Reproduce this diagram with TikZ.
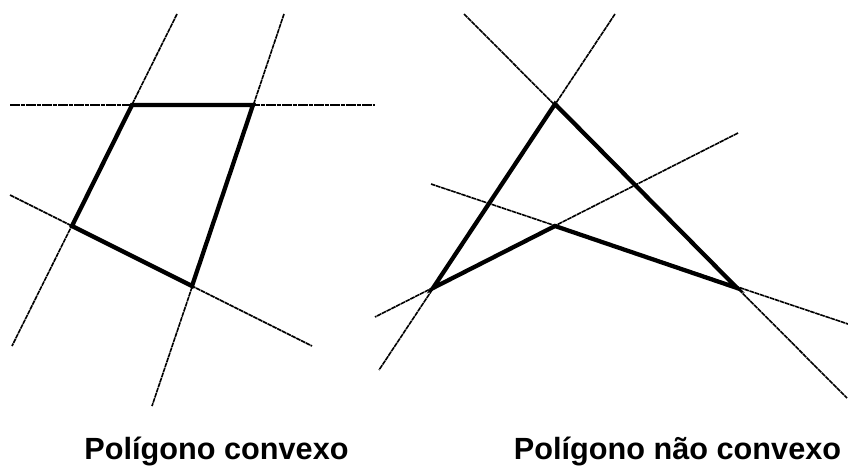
\documentclass[tikz,border=0pt]{standalone}
\usepackage{fontspec}
\setmainfont{Liberation Sans}
\begin{document}
\begin{tikzpicture}[x=0.75pt,y=-0.75pt,
  extline/.style={line width=1.2pt,dash pattern=on 3.5pt off 0.5pt},
  edge/.style={line width=3.2pt,line join=miter,line cap=round},
  caption/.style={anchor=base,inner sep=0pt,font=\fontsize{23pt}{27pt}\selectfont\bfseries}]
\useasboundingbox (0,0) rectangle (848,468);
% left polygon vertices
\coordinate (A) at (132,105);
\coordinate (B) at (253,105);
\coordinate (C) at (192,286);
\coordinate (D) at (72,226);
% extension line ends (left)
\coordinate (h1) at (10,105);   \coordinate (h2) at (375,105);
\coordinate (l1) at (177,14);   \coordinate (l2) at (12,346);
\coordinate (r1) at (284,14);   \coordinate (r2) at (152,406);
\coordinate (b1) at (10,195);   \coordinate (b2) at (312,346);
\draw[extline] (h1) -- (h2);
\draw[extline] (l1) -- (l2);
\draw[extline] (r1) -- (r2);
\draw[extline] (b1) -- (b2);
\draw[edge] (A) -- (B) -- (C) -- (D) -- cycle;
% right polygon vertices
\coordinate (P) at (555,104);
\coordinate (Q) at (737,288);
\coordinate (R) at (555,226);
\coordinate (S) at (433,288);
% extension line ends (right)
\coordinate (pq1) at (464,14);  \coordinate (pq2) at (847,398);
\coordinate (qr1) at (431,184); \coordinate (qr2) at (848,324);
\coordinate (rs1) at (738,133); \coordinate (rs2) at (375,317);
\coordinate (ps1) at (615,14);  \coordinate (ps2) at (379,370);
\draw[extline] (pq1) -- (pq2);
\draw[extline] (qr1) -- (qr2);
\draw[extline] (rs1) -- (rs2);
\draw[extline] (ps1) -- (ps2);
\draw[edge] (P) -- (Q) -- (R) -- (S) -- cycle;
% captions
\node[caption] (t1) at (216.5,459) {Polígono convexo};
\node[caption] (t2) at (677.5,459) {Polígono não convexo};
\end{tikzpicture}
\end{document}
